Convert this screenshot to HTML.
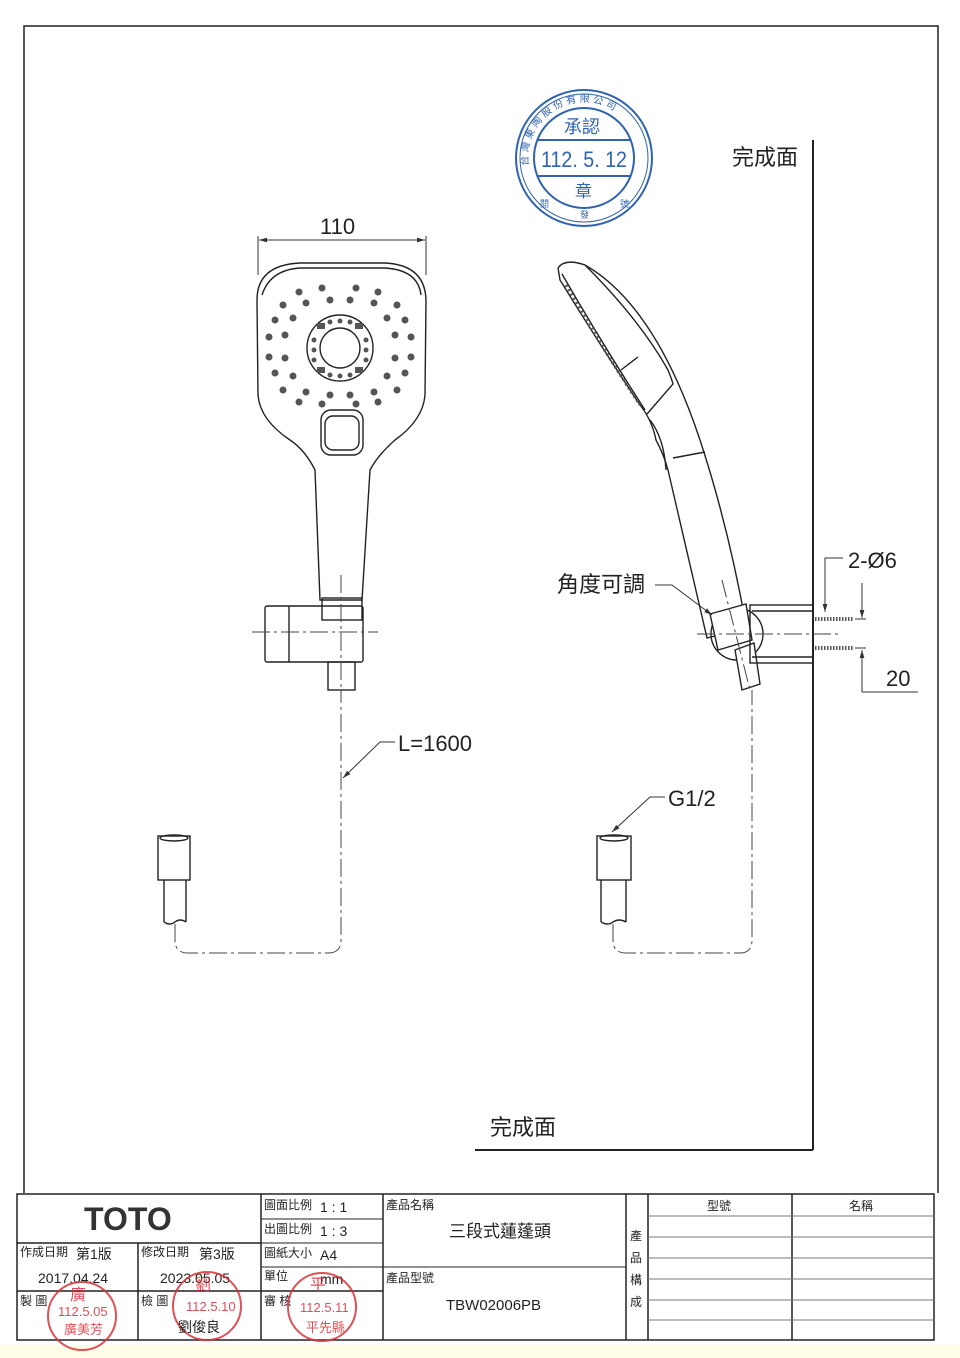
<!DOCTYPE html>
<html><head><meta charset="utf-8"><style>
html,body{margin:0;padding:0;background:#fff;}
svg{display:block;}
text{font-family:"Liberation Sans","Noto Sans CJK TC",sans-serif;}
</style></head><body>
<svg width="960" height="1358" viewBox="0 0 960 1358" xmlns="http://www.w3.org/2000/svg">
<defs>
<marker id="ar" viewBox="0 0 10 10" refX="10" refY="5" markerWidth="8" markerHeight="8" orient="auto-start-reverse"><path d="M0,2 L10,5 L0,8 z" fill="#333"/></marker>
<path id="arc" d="M531.4,177.2 A56,56 0 1 1 636.6,177.2"/>
</defs>
<rect width="960" height="1358" fill="#fff"/>
<rect x="0" y="1345" width="960" height="13" fill="#fdfde8"/>
<path d="M24,1193 V26 H938 V1193" fill="none" stroke="#222" stroke-width="1.5"/>
<line x1="813" y1="140" x2="813" y2="1150" stroke="#222" stroke-width="2"/>
<line x1="475" y1="1150" x2="813" y2="1150" stroke="#222" stroke-width="2"/>
<text x="732" y="165" font-size="22" fill="#222">完成面</text>
<text x="490" y="1135" font-size="22" fill="#222">完成面</text>

<!-- blue stamp -->
<g stroke="#2f63b0" fill="none" stroke-width="2">
<circle cx="584" cy="158" r="68"/>
<circle cx="584" cy="158" r="64" stroke-width="1"/>
<circle cx="584" cy="158" r="50"/>
<line x1="538" y1="140" x2="630" y2="140"/>
<line x1="538" y1="176" x2="630" y2="176"/>
</g>
<g fill="#2f63b0">
<text x="564" y="133" font-size="18">承認</text>
<text x="541" y="167" font-size="22" textLength="86" lengthAdjust="spacingAndGlyphs">112. 5. 12</text>
<text x="575" y="197" font-size="17">章</text>
<text x="540" y="207" font-size="9">閱</text><text x="580" y="218" font-size="9">發</text><text x="620" y="207" font-size="9">號</text>
<text font-size="10" letter-spacing="3"><textPath href="#arc" startOffset="12">台灣東陶股份有限公司</textPath></text>
</g>

<!-- dim 110 -->
<line x1="258" y1="236" x2="258" y2="275" stroke="#333"/>
<line x1="426" y1="236" x2="426" y2="275" stroke="#333"/>
<line x1="259" y1="240" x2="425" y2="240" stroke="#333" marker-start="url(#ar)" marker-end="url(#ar)"/>
<text x="320" y="234" font-size="22" fill="#222">110</text>

<!-- front view -->
<g fill="none" stroke="#222" stroke-width="1.4">
<path d="M257,300 Q257,265 300,263 L385,263 Q425,265 426,300 L425,395 Q423,420 395,440 Q378,455 370,470 L362,600 L320,600 L315,470 Q305,450 290,440 Q260,420 258,395 Z"/>
<path d="M262,295 Q270,270 300,268 L385,268 Q418,270 421,295"/>
<rect x="321" y="410" width="42" height="45" rx="10"/>
<rect x="325" y="416" width="34" height="34" rx="8"/>
<rect x="322" y="598" width="40" height="22"/>
<rect x="265" y="606" width="98" height="56" rx="2"/>
<line x1="289" y1="606" x2="289" y2="662"/>
<rect x="328" y="662" width="27" height="28"/>
<circle cx="340" cy="348" r="33"/>
<circle cx="340" cy="348" r="20"/>
</g>
<g fill="#555">
<circle cx="299" cy="292" r="3.5"/><circle cx="322" cy="288" r="3.5"/><circle cx="356" cy="288" r="3.5"/><circle cx="378" cy="292" r="3.5"/>
<circle cx="283" cy="305" r="3.5"/><circle cx="306" cy="303" r="3.5"/><circle cx="330" cy="300" r="3.5"/><circle cx="350" cy="300" r="3.5"/><circle cx="374" cy="303" r="3.5"/><circle cx="397" cy="305" r="3.5"/>
<circle cx="275" cy="320" r="3.5"/><circle cx="293" cy="318" r="3.5"/><circle cx="387" cy="318" r="3.5"/><circle cx="405" cy="320" r="3.5"/>
<circle cx="269" cy="337" r="3.5"/><circle cx="285" cy="335" r="3.5"/><circle cx="395" cy="335" r="3.5"/><circle cx="411" cy="337" r="3.5"/>
<circle cx="269" cy="357" r="3.5"/><circle cx="285" cy="358" r="3.5"/><circle cx="395" cy="358" r="3.5"/><circle cx="411" cy="357" r="3.5"/>
<circle cx="275" cy="373" r="3.5"/><circle cx="293" cy="376" r="3.5"/><circle cx="387" cy="376" r="3.5"/><circle cx="405" cy="373" r="3.5"/>
<circle cx="283" cy="390" r="3.5"/><circle cx="306" cy="392" r="3.5"/><circle cx="330" cy="395" r="3.5"/><circle cx="350" cy="395" r="3.5"/><circle cx="374" cy="392" r="3.5"/><circle cx="397" cy="390" r="3.5"/>
<circle cx="299" cy="402" r="3.5"/><circle cx="322" cy="404" r="3.5"/><circle cx="356" cy="404" r="3.5"/><circle cx="378" cy="402" r="3.5"/>
<circle cx="330" cy="322" r="2.5"/><circle cx="340" cy="321" r="2.5"/><circle cx="350" cy="322" r="2.5"/>
<circle cx="330" cy="375" r="2.5"/><circle cx="340" cy="376" r="2.5"/><circle cx="350" cy="375" r="2.5"/>
<circle cx="314" cy="340" r="2.5"/><circle cx="314" cy="350" r="2.5"/><circle cx="314" cy="360" r="2.5"/>
<circle cx="366" cy="340" r="2.5"/><circle cx="366" cy="350" r="2.5"/><circle cx="366" cy="360" r="2.5"/>
<rect x="317" y="323" width="8" height="6"/><rect x="355" y="323" width="8" height="6"/><rect x="317" y="367" width="8" height="6"/><rect x="355" y="367" width="8" height="6"/>
</g>
<g stroke="#444" stroke-dasharray="18,4,3,4" fill="none">
<line x1="252" y1="632" x2="378" y2="632"/>
<line x1="341" y1="575" x2="341" y2="700"/>
</g>

<!-- side view -->
<g fill="none" stroke="#222" stroke-width="1.4">
<path d="M558,268 Q565,258 585,265 Q655,305 700,440 Q728,525 746,625"/>
<path d="M558,268 L560,280 Q600,345 640,405 Q652,420 656,440 Q664,455 668,470 L707,638 L746,628"/>
<path d="M562,274 Q600,340 645,410"/>
<path d="M585,265 Q640,320 668,370 Q672,380 673,384 L647,414"/>
<line x1="621" y1="370" x2="638" y2="357"/>
<line x1="673" y1="458" x2="705" y2="452"/>
<path d="M650,420 Q664,438 666,470"/>
<g stroke="#555" stroke-width="3" stroke-dasharray="2,3"><path d="M566,285 Q600,345 640,405"/></g>
<circle cx="737" cy="634" r="26"/>
<path d="M710,614 L746,604 L752,640 L718,650 Z" fill="#fff"/>
<path d="M735,650 L754,643 L760,684 L742,690 Z" fill="#fff"/>
<rect x="750" y="605" width="63" height="58"/>
<line x1="752" y1="611" x2="813" y2="611"/>
<line x1="752" y1="657" x2="813" y2="657"/>
</g>
<g stroke="#555" stroke-width="4" stroke-dasharray="1.5,1.5">
<line x1="815" y1="619" x2="853" y2="619"/>
<line x1="815" y1="648" x2="853" y2="648"/>
</g>
<g stroke="#444" stroke-dasharray="18,4,3,4" fill="none">
<line x1="697" y1="634" x2="840" y2="634"/>
<line x1="722" y1="580" x2="750" y2="690"/>
</g>
<polyline points="843,558 825,558 825,612" fill="none" stroke="#333" marker-end="url(#ar)"/>
<text x="848" y="568" font-size="22" fill="#222">2-Ø6</text>
<line x1="862" y1="583" x2="862" y2="618" stroke="#333" marker-end="url(#ar)"/>
<line x1="862" y1="692" x2="862" y2="650" stroke="#333" marker-end="url(#ar)"/>
<line x1="862" y1="692" x2="918" y2="692" stroke="#333"/>
<line x1="855" y1="619" x2="866" y2="619" stroke="#333"/>
<line x1="855" y1="648" x2="866" y2="648" stroke="#333"/>
<text x="886" y="686" font-size="22" fill="#222">20</text>
<polyline points="655,585 672,585 712,615" fill="none" stroke="#333" marker-end="url(#ar)"/>
<text x="557" y="592" font-size="22" fill="#222">角度可調</text>

<!-- hoses -->
<g fill="none" stroke="#222" stroke-width="1.4">
<rect x="158" y="836" width="32" height="44"/>
<ellipse cx="174" cy="838" rx="14" ry="3"/>
<path d="M164,880 V922 M186,880 V922 M164,922 Q170,926 175,922 Q180,918 186,922"/>
<rect x="597" y="836" width="34" height="44"/>
<ellipse cx="614" cy="838" rx="14" ry="3"/>
<path d="M601,880 V922 M626,880 V922 M601,922 Q608,926 613,922 Q619,918 626,922"/>
</g>
<g fill="none" stroke="#444" stroke-dasharray="18,4,3,4">
<path d="M175,924 V940 Q175,953 188,953 H328 Q341,953 341,940 V690"/>
<path d="M613,924 V940 Q613,953 626,953 H740 Q752,953 752,940 V690"/>
</g>
<polyline points="395,742 380,742 343,778" fill="none" stroke="#333" marker-end="url(#ar)"/>
<text x="398" y="751" font-size="22" fill="#222">L=1600</text>
<polyline points="665,797 650,797 612,832" fill="none" stroke="#333" marker-end="url(#ar)"/>
<text x="668" y="806" font-size="22" fill="#222">G1/2</text>

<!-- title block -->
<g fill="none" stroke="#222" stroke-width="1.5">
<rect x="17" y="1194" width="917" height="146"/>
<line x1="17" y1="1243" x2="261" y2="1243"/>
<line x1="17" y1="1291" x2="383" y2="1291"/>
<line x1="138" y1="1243" x2="138" y2="1340"/>
<line x1="261" y1="1194" x2="261" y2="1340"/>
<line x1="383" y1="1194" x2="383" y2="1340"/>
<line x1="626" y1="1194" x2="626" y2="1340"/>
<line x1="648" y1="1194" x2="648" y2="1340"/>
<line x1="792" y1="1194" x2="792" y2="1340"/>
<line x1="261" y1="1219" x2="383" y2="1219" stroke-width="1"/>
<line x1="261" y1="1243" x2="383" y2="1243" stroke-width="1"/>
<line x1="261" y1="1267" x2="383" y2="1267" stroke-width="1"/>
<line x1="383" y1="1267" x2="626" y2="1267" stroke-width="1"/>
</g>
<g stroke="#777" stroke-width="1">
<line x1="648" y1="1216" x2="934" y2="1216"/>
<line x1="648" y1="1237" x2="934" y2="1237"/>
<line x1="648" y1="1258" x2="934" y2="1258"/>
<line x1="648" y1="1279" x2="934" y2="1279"/>
<line x1="648" y1="1300" x2="934" y2="1300"/>
<line x1="648" y1="1320" x2="934" y2="1320"/>
</g>
<text x="84" y="1230" font-size="32" font-weight="bold" font-family="Liberation Serif, serif" fill="#333">TOTO</text>
<g font-size="12" fill="#222">
<text x="264" y="1209">圖面比例</text><text x="320" y="1212" font-size="14">1 : 1</text>
<text x="264" y="1233">出圖比例</text><text x="320" y="1236" font-size="14">1 : 3</text>
<text x="264" y="1257">圖紙大小</text><text x="320" y="1260" font-size="14">A4</text>
<text x="264" y="1280">單位</text><text x="320" y="1284" font-size="14">mm</text>
<text x="264" y="1305">審 核</text>
<text x="20" y="1256">作成日期</text><text x="76" y="1259" font-size="14">第1版</text>
<text x="141" y="1256">修改日期</text><text x="199" y="1259" font-size="14">第3版</text>
<text x="38" y="1283" font-size="14">2017.04.24</text>
<text x="160" y="1283" font-size="14">2023.05.05</text>
<text x="20" y="1305">製 圖</text>
<text x="141" y="1305">檢 圖</text>
<text x="386" y="1209">產品名稱</text>
<text x="386" y="1282">產品型號</text>
<text x="449" y="1237" font-size="17">三段式蓮蓬頭</text>
<text x="446" y="1310" font-size="15">TBW02006PB</text>
<text x="707" y="1210">型號</text>
<text x="849" y="1210">名稱</text>
<text x="630" y="1240">產</text><text x="630" y="1262">品</text><text x="630" y="1284">構</text><text x="630" y="1306">成</text>
</g>
<g fill="none" stroke="#d8323a" stroke-width="2" opacity="0.85">
<circle cx="82" cy="1316" r="34"/>
<circle cx="207" cy="1306" r="34"/>
<circle cx="322" cy="1307" r="34"/>
</g>
<g fill="#d8323a" font-size="13" opacity="0.85">
<text x="70" y="1300" font-size="16">廣</text><text x="58" y="1316">112.5.05</text><text x="64" y="1334">廣美芳</text>
<text x="195" y="1290" font-size="16">劉</text><text x="186" y="1311">112.5.10</text>
<text x="310" y="1290" font-size="16">平</text><text x="300" y="1312">112.5.11</text><text x="306" y="1332">平先縣</text>
</g>
<text x="178" y="1332" font-size="14" fill="#222">劉俊良</text>
</svg>
</body></html>
